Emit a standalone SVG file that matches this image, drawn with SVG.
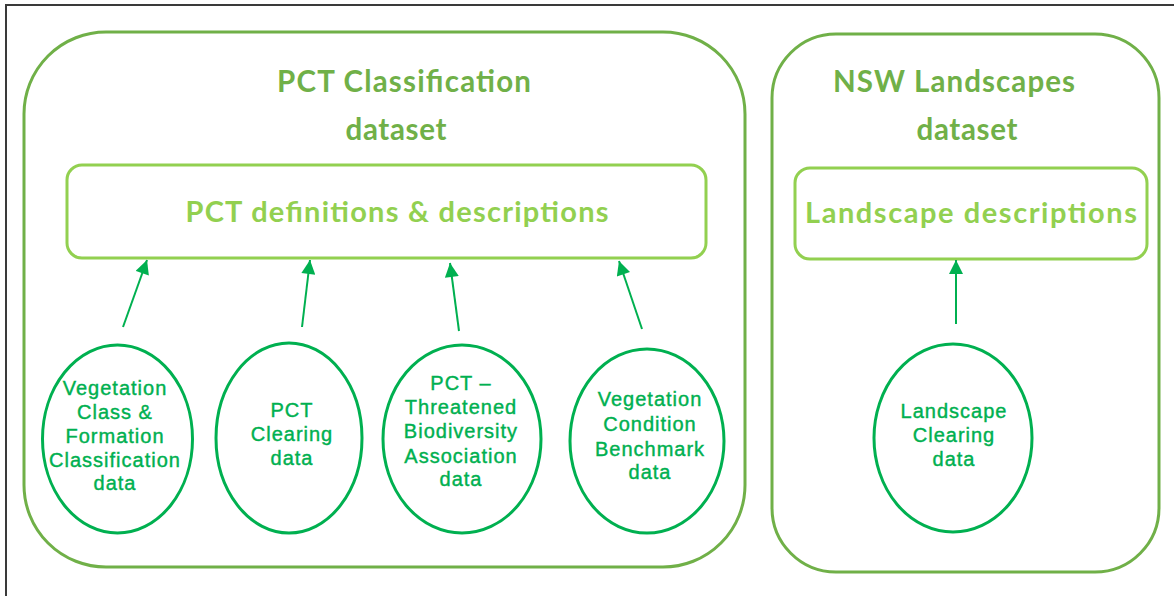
<svg xmlns="http://www.w3.org/2000/svg" width="1174" height="596" viewBox="0 0 1174 596">
  <defs>
    <marker id="arrowhead" viewBox="0 0 10 10" refX="10" refY="5" markerWidth="7.5" markerHeight="7" markerUnits="strokeWidth" orient="auto">
      <path d="M0,0 L10,5 L0,10 Z" fill="#00b050"/>
    </marker>
    <style>
      .frame { fill: #ffffff; stroke: #3a3a3a; stroke-width: 2; }
      .dataset { fill: none; stroke: #70b048; stroke-width: 3; }
      .content { fill: none; stroke: #92d050; stroke-width: 3; }
      .source { fill: none; stroke: #00b050; stroke-width: 3; }
      .title { font-family: Lato, "Open Sans", "Liberation Sans", sans-serif; font-weight: bold; font-size: 29.5px; fill: #70b048; text-anchor: middle; }
      .subtitle { font-family: Lato, "Open Sans", "Liberation Sans", sans-serif; font-weight: bold; font-size: 29px; fill: #92d050; text-anchor: middle; }
      .label { font-family: "Liberation Sans", Arial, sans-serif; font-size: 20px; letter-spacing: 1px; fill: #00b050; stroke: #00b050; stroke-width: 0.4; text-anchor: middle; }
      .link { fill: none; stroke: #00b050; stroke-width: 2; marker-end: url(#arrowhead); }
    </style>
  </defs>

  <!-- page frame -->
  <rect class="frame" x="6" y="5" width="1190" height="610"/>

  <!-- PCT classification dataset -->
  <g id="pct-dataset">
    <rect class="dataset" x="24" y="32" width="721" height="535" rx="82" ry="82"/>
    <text class="title" x="404" y="92" textLength="254" lengthAdjust="spacing">PCT Classification</text>
    <text class="title" x="396" y="140" textLength="101" lengthAdjust="spacing">dataset</text>
  </g>

  <g id="pct-definitions">
    <rect class="content" x="67" y="165" width="639" height="93" rx="15" ry="15"/>
    <text class="subtitle" x="397" y="222" textLength="423" lengthAdjust="spacing">PCT definitions &amp; descriptions</text>
  </g>

  <!-- NSW landscapes dataset -->
  <g id="nsw-dataset">
    <rect class="dataset" x="772" y="34" width="387" height="538" rx="64" ry="64"/>
    <text class="title" x="954" y="92" textLength="242" lengthAdjust="spacing">NSW Landscapes</text>
    <text class="title" x="967" y="140" textLength="101" lengthAdjust="spacing">dataset</text>
  </g>

  <g id="landscape-descriptions">
    <rect class="content" x="795" y="168" width="352" height="91" rx="15" ry="15"/>
    <text class="subtitle" x="971" y="223" textLength="332" lengthAdjust="spacing">Landscape descriptions</text>
  </g>

  <!-- source data -->
  <g id="vegetation-class">
    <ellipse class="source" cx="117.5" cy="439" rx="75" ry="94"/>
    <text class="label" x="115" y="395">Vegetation</text>
    <text class="label" x="115" y="419">Class &amp;</text>
    <text class="label" x="115" y="443">Formation</text>
    <text class="label" x="115" y="467">Classification</text>
    <text class="label" x="115" y="490">data</text>
  </g>

  <g id="pct-clearing">
    <ellipse class="source" cx="289" cy="438" rx="73" ry="95"/>
    <text class="label" x="292" y="417">PCT</text>
    <text class="label" x="292" y="441">Clearing</text>
    <text class="label" x="292" y="465">data</text>
  </g>

  <g id="pct-tba">
    <ellipse class="source" cx="462" cy="439" rx="79" ry="94"/>
    <text class="label" x="461" y="390">PCT –</text>
    <text class="label" x="461" y="414">Threatened</text>
    <text class="label" x="461" y="438">Biodiversity</text>
    <text class="label" x="461" y="463">Association</text>
    <text class="label" x="461" y="486">data</text>
  </g>

  <g id="vegetation-condition">
    <ellipse class="source" cx="647" cy="441" rx="77" ry="92"/>
    <text class="label" x="650" y="406">Vegetation</text>
    <text class="label" x="650" y="431">Condition</text>
    <text class="label" x="650" y="456">Benchmark</text>
    <text class="label" x="650" y="479">data</text>
  </g>

  <g id="landscape-clearing">
    <ellipse class="source" cx="953" cy="438" rx="79" ry="94"/>
    <text class="label" x="954" y="418">Landscape</text>
    <text class="label" x="954" y="442">Clearing</text>
    <text class="label" x="954" y="466">data</text>
  </g>

  <!-- connectors -->
  <g id="connectors">
    <line class="link" x1="123" y1="327" x2="147" y2="260"/>
    <line class="link" x1="302" y1="327" x2="310" y2="260"/>
    <line class="link" x1="459" y1="331" x2="450" y2="263"/>
    <line class="link" x1="642" y1="329" x2="619" y2="261"/>
    <line class="link" x1="956" y1="324" x2="956" y2="260"/>
  </g>
</svg>
